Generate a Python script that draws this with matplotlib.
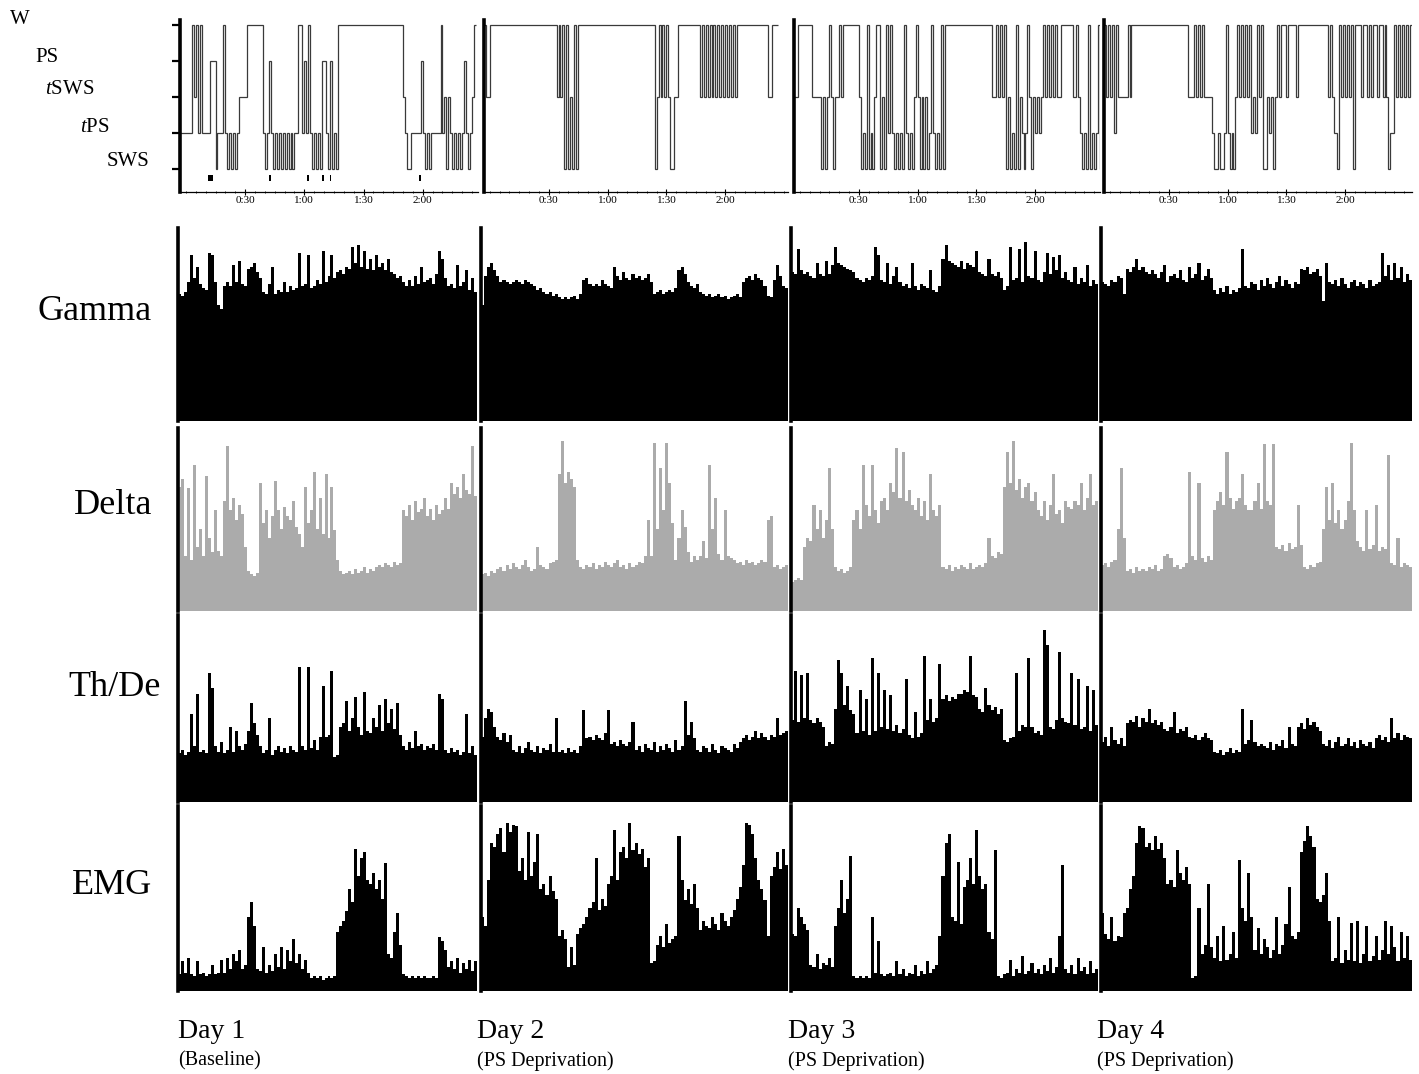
import matplotlib
matplotlib.use("Agg")
import matplotlib.pyplot as plt
import numpy as np

plt.rcParams['font.family'] = ['Liberation Serif', 'DejaVu Serif']
plt.rcParams['mathtext.fontset'] = 'custom'
plt.rcParams['mathtext.rm'] = 'Liberation Serif'
plt.rcParams['mathtext.it'] = 'Liberation Serif:italic'

# ---------------- data ----------------
days = ["Day 1", "Day 2", "Day 3", "Day 4"]
conditions = ["(Baseline)", "(PS Deprivation)", "(PS Deprivation)", "(PS Deprivation)"]
stage_labels = ["SWS", r"$\it{t}$PS", r"$\it{t}$SWS", "PS", "W"]   # levels 0..4
time_ticks = [30, 60, 90, 120]
time_tick_labels = ["0:30", "1:00", "1:30", "2:00"]
row_labels = ["Gamma", "Delta", "Th/De", "EMG"]

# hypnograms: one digit per 1-min epoch starting at -3 min (0=SWS,1=tPS,2=tSWS,3=PS,4=W)
hyp_start = -3
hyp_day1 = ("111111" "42414" "1111" "333" "0" "111" "4" "1010101" "2222" "44444444"
            "10131" "010101010101" "1" "44" "131" "4" "101010" "33" "10" "3" "010"
            "4444444444" "4444444444" "4444444444" "444" "2" "100111113101011111"
            "4" "1202" "1010101" "3" "10124")
hyp_day2 = ("4" "22" "4444444444" "4444444444" "4444444444" "4444" "2424" "0402040"
            "4444444444" "4444444444" "4444444444" "444444444" "0" "2424242" "00" "22"
            "44444444444" "2424242424242424242" "4444444444444444" "22" "444")
hyp_day3 = ("22" "4" "444444" "22222" "0202420" "22" "424" "4444444" "2" "010401024"
            "4020414" "101010410" "10" "24202020" "14" "1010" "404"
            "4444444444" "4444444444" "444" "22" "42424" "02010402101420" "2121242"
            "4242422" "44" "44442242" "10104010140")
hyp_day4 = ("42424142" "2222" "424" "4444444444" "4444444444" "44444444" "222" "424242"
            "2221" "00100" "141" "0102" "4242424" "121" "424" "00" "212" "0"
            "242444244442444" "444444444444" "242" "110" "424242404" "4424424244244242"
            "0" "11" "424242424")
hyp_xmax = [148, 152, 153, 154]
ps_marks_day1 = [(11.0, 2.6), (42.3, 0.7), (61.3, 1.0), (69.2, 0.9), (73.0, 0.7), (118.3, 0.7)]

gamma_day1 = [66,65,67,72,86,74,80,71,69,68,87,86,72,60,58,70,72,70,81,72,83,71,70,79,80,82,77,74,
              67,66,71,80,66,68,67,72,67,70,68,69,87,70,71,86,69,70,73,71,88,72,75,86,74,77,78,76,
              80,79,90,82,91,80,88,79,84,78,86,80,82,78,84,77,76,74,75,72,70,73,70,75,71,80,72,73,
              74,71,76,88,84,74,70,71,69,81,70,72,78,68,74,67]
gamma_day2 = [60,75,80,82,78,75,72,73,72,71,72,73,72,71,73,72,71,70,68,69,67,66,67,65,66,64,63,64,
              63,64,65,63,66,73,74,71,70,71,70,73,71,70,69,80,75,73,77,74,73,76,74,75,73,74,76,72,
              66,67,68,66,67,68,67,69,78,80,76,72,70,69,71,67,66,65,66,64,65,66,64,65,63,64,65,66,
              64,72,74,75,73,76,74,73,70,65,64,73,81,75,70,69]
gamma_day3 = [77,76,89,78,76,77,75,74,82,76,75,83,76,81,90,82,81,80,79,78,77,74,73,72,74,73,75,90,
              86,73,72,82,71,75,80,72,70,71,69,82,70,68,71,70,69,78,68,67,70,84,91,83,82,81,80,83,
              79,82,81,80,88,77,76,75,84,76,75,77,74,68,70,90,73,74,89,72,93,75,74,88,73,72,77,87,
              76,85,78,86,74,77,73,72,80,71,74,72,81,70,73,71]
gamma_day4 = [72,71,70,73,72,75,74,66,79,77,80,84,78,80,77,76,78,76,74,77,81,72,75,76,74,78,73,72,
              80,74,76,82,73,75,79,74,68,66,69,67,70,66,68,67,69,89,70,69,72,71,68,73,70,74,71,69,
              72,75,70,73,71,69,72,71,79,78,80,76,77,79,75,62,82,72,71,73,70,74,71,69,72,73,70,72,
              71,69,73,70,71,72,87,75,81,73,82,74,80,72,76,73]

delta_day1 = [68,72,30,67,28,80,35,45,30,74,40,32,55,33,30,60,90,55,62,50,58,53,35,22,20,19,21,
              70,48,55,40,52,71,55,45,57,52,50,60,46,42,35,68,48,55,76,45,62,42,75,40,68,44,28,22,
              20,21,22,20,23,21,22,24,21,23,22,24,25,24,26,25,24,27,25,26,55,52,58,50,60,54,56,62,
              52,56,50,58,53,55,62,56,70,64,68,62,75,66,64,90,63]
delta_day2 = [20,21,19,22,21,23,24,22,25,23,26,24,23,25,28,24,22,23,35,25,24,23,26,27,28,75,93,70,
              76,72,68,28,24,23,25,24,26,23,25,24,27,25,24,26,28,24,25,23,26,24,25,27,26,30,50,30,
              92,45,78,55,92,70,48,28,40,55,46,32,27,30,28,30,38,29,80,45,62,31,28,55,30,29,28,26,
              27,25,28,26,27,25,26,28,27,50,52,24,25,23,24,25]
delta_day3 = [16,17,18,17,35,40,38,58,45,55,40,50,78,45,24,22,23,21,22,24,50,55,45,80,58,52,80,55,
              48,60,62,55,70,65,89,62,87,60,66,58,55,62,52,60,50,75,55,52,58,24,23,25,22,24,23,25,
              24,23,26,23,24,25,24,26,40,30,29,32,31,68,87,70,93,66,72,62,68,70,60,65,55,52,60,50,
              58,75,53,55,48,60,57,56,60,58,70,55,62,75,58,60]
delta_day4 = [25,26,24,27,28,45,78,40,22,23,21,24,22,23,22,24,23,25,22,23,30,31,29,24,25,23,24,26,
              76,30,28,70,29,27,30,28,55,60,65,58,87,62,56,60,62,75,58,55,55,60,70,56,91,60,58,91,
              35,34,36,33,37,34,35,58,36,24,23,25,24,26,27,45,68,50,70,48,55,45,50,60,92,55,38,35,
              33,55,34,36,58,33,35,34,85,26,25,40,24,26,25,24]

thde_day1 = [26,28,25,27,47,30,58,27,28,26,69,61,30,27,32,26,28,40,27,38,30,28,31,38,53,42,36,30,
             26,28,45,25,28,30,27,29,26,30,28,27,72,30,28,72,29,33,28,35,62,35,36,70,24,25,40,42,
             54,38,45,56,40,36,59,38,37,45,40,52,38,55,42,50,39,53,36,30,28,32,29,38,30,31,28,30,
             29,31,28,58,55,28,26,29,27,28,25,27,47,26,30,25]
thde_day2 = [35,45,50,48,40,35,33,37,32,36,28,27,30,26,29,32,28,27,30,26,29,28,31,27,45,27,28,26,
             29,27,28,26,30,49,34,35,33,36,34,33,37,49,31,32,30,33,31,30,32,43,28,30,27,31,29,28,
             32,27,30,28,31,29,27,33,28,30,54,36,43,34,28,27,30,29,27,31,28,26,30,29,28,27,31,29,
             32,34,36,33,35,38,34,37,35,33,36,35,45,36,37,38]
thde_day3 = [44,70,43,68,45,69,44,42,45,43,40,30,32,31,50,76,69,52,62,49,47,37,60,38,55,36,77,38,
             69,40,60,39,57,38,41,37,39,66,36,34,48,35,37,78,44,55,43,45,74,55,57,54,56,55,58,58,
             60,59,78,57,56,50,48,61,52,49,51,47,50,33,32,34,35,69,38,41,40,77,40,37,38,36,92,84,
             40,39,44,80,45,43,42,69,41,66,39,40,62,38,60,41]
thde_day4 = [32,35,30,40,33,31,34,30,42,44,43,46,40,45,43,50,42,44,41,43,39,38,40,48,37,39,38,40,
             35,34,36,33,35,37,34,33,27,26,28,25,27,29,26,28,27,50,31,33,44,32,30,31,30,29,32,28,
             31,30,33,29,40,31,30,40,42,39,45,41,43,40,38,31,30,33,29,32,35,30,31,34,30,32,29,33,
             31,30,32,29,34,36,33,35,32,45,34,37,33,36,35,34]

emg_day1 = [9,16,10,18,9,8,16,9,10,8,9,14,9,10,17,10,18,12,20,16,22,12,14,40,48,35,12,11,24,10,
            14,11,20,13,24,12,22,16,28,15,20,12,17,10,7,8,7,8,6,7,8,7,8,32,35,38,43,55,48,77,
            62,72,75,60,58,64,55,60,50,69,20,18,32,42,25,9,8,7,8,7,8,7,8,7,7,8,7,29,27,22,
            13,16,12,18,10,15,12,17,11,16]
emg_day2 = [40,35,60,80,78,85,88,75,91,86,90,89,65,72,60,86,62,70,85,55,58,52,62,54,50,30,33,28,
            13,24,14,31,34,36,40,45,48,72,44,50,46,58,62,87,60,75,78,72,91,76,80,74,77,67,72,15,
            16,25,30,24,36,26,28,30,84,60,49,55,47,58,45,33,38,35,34,40,36,33,42,38,35,40,44,50,
            56,68,91,90,85,72,60,55,49,30,62,67,75,66,77,68]
emg_day3 = [31,30,45,40,36,33,14,13,20,12,15,14,18,13,35,45,60,42,50,73,8,7,8,7,8,7,40,10,27,9,
            8,9,10,8,16,9,12,8,10,9,14,8,11,9,16,10,12,14,30,62,80,85,40,38,70,36,56,60,72,58,
            87,62,55,58,32,28,76,8,7,9,10,17,8,12,10,19,9,11,15,10,12,9,14,11,18,10,13,30,68,
            12,10,14,9,18,11,13,9,16,10,12]
emg_day4 = [42,31,28,40,27,30,29,42,45,55,62,80,89,88,78,80,76,84,77,80,72,58,60,56,76,64,60,67,
            58,7,8,45,20,25,58,24,18,30,16,35,17,20,32,18,71,45,38,64,40,22,34,20,28,24,18,22,
            40,20,25,36,56,30,28,32,75,81,89,84,78,50,48,52,64,38,16,18,40,15,22,17,37,16,38,15,
            20,35,16,19,30,17,22,38,20,35,24,16,32,18,30,17]

hyp_strings = [hyp_day1, hyp_day2, hyp_day3, hyp_day4]
spectral_rows = [
    [gamma_day1, gamma_day2, gamma_day3, gamma_day4],
    [delta_day1, delta_day2, delta_day3, delta_day4],
    [thde_day1, thde_day2, thde_day3, thde_day4],
    [emg_day1, emg_day2, emg_day3, emg_day4],
]
row_colors = ["black", "#ababab", "black", "black"]

# ---------------- layout (pixel boxes) ----------------
W, H = 1419, 1074
col_x = [(178, 477), (481, 788), (791, 1098), (1101, 1412)]
hyp_x = [(180, 478), (484, 788), (794, 1100), (1104, 1412)]
hyp_y = (20, 192)
row_y = [(228, 421), (428, 611), (615, 802), (806, 991)]


def px_axes(fig, x0, x1, y0, y1):
    return fig.add_axes([x0 / W, 1 - y1 / H, (x1 - x0) / W, (y1 - y0) / H])


fig = plt.figure(figsize=(W / 100, H / 100), dpi=100)

# level -> pixel: level 0 at y=169, level 4 at y=25 (36 px per level)
lev_px = 36.0
y_bot = -(hyp_y[1] - 169) / lev_px
y_top = 4 + (25 - hyp_y[0]) / lev_px

for c in range(4):
    ax = px_axes(fig, hyp_x[c][0], hyp_x[c][1], hyp_y[0], hyp_y[1])
    levels = [int(ch) for ch in hyp_strings[c]]
    edges = hyp_start + np.arange(len(levels) + 1)
    ax.stairs(levels, edges, baseline=None, color="#3a3a3a", lw=0.9)
    if c == 0:
        ax.broken_barh(ps_marks_day1, (-0.33, 0.17), facecolor="black")
        ax.set_yticks(range(5))
        ax.tick_params(axis="y", direction="out", length=6, width=1.6, labelleft=False)
    else:
        ax.set_yticks([])
    ax.set_xlim(hyp_start, hyp_xmax[c])
    ax.set_ylim(y_bot, y_top)
    for s in ["top", "right"]:
        ax.spines[s].set_visible(False)
    ax.spines["left"].set_linewidth(2.6)
    ax.spines["bottom"].set_linewidth(0.9)
    ax.set_xticks(time_ticks)
    ax.set_xticklabels(time_tick_labels, fontsize=8)
    ax.set_xticks(np.arange(0, hyp_xmax[c], 5), minor=True)
    ax.tick_params(axis="x", which="major", direction="inout", length=4, width=0.8, pad=1)
    ax.tick_params(axis="x", which="minor", direction="inout", length=2, width=0.6)

for r in range(4):
    for c in range(4):
        vals = spectral_rows[r][c]
        ax = px_axes(fig, col_x[c][0], col_x[c][1], row_y[r][0], row_y[r][1])
        ax.stairs(vals, np.arange(len(vals) + 1), fill=True, color=row_colors[r], lw=0)
        ax.set_xlim(0, len(vals))
        ax.set_ylim(0, 100)
        ax.set_xticks([])
        ax.set_yticks([])
        for s in ["top", "right", "bottom"]:
            ax.spines[s].set_visible(False)
        ax.spines["left"].set_linewidth(2.6)

# stage labels
stage_pos = [(107, 162), (80, 127), (45, 90), (35, 57), (10, 20)]
for lab, (x, y) in zip(stage_labels, stage_pos):
    fig.text(x / W, 1 - y / H, lab, fontsize=15, ha="left", va="center")

# row labels
row_label_pos = [(95, 311), (113, 506), (115, 688), (112, 885)]
for lab, (x, y) in zip(row_labels, row_label_pos):
    fig.text(x / W, 1 - y / H, lab, fontsize=26, ha="center", va="center")

# day labels
day_x = [178, 477, 788, 1097]
for d, cond, x in zip(days, conditions, day_x):
    fig.text(x / W, 1 - 1031 / H, d, fontsize=20, ha="left", va="center")
    fig.text(x / W, 1 - 1061 / H, cond, fontsize=14.5, ha="left", va="center")

fig.savefig("out.png", dpi=100)
